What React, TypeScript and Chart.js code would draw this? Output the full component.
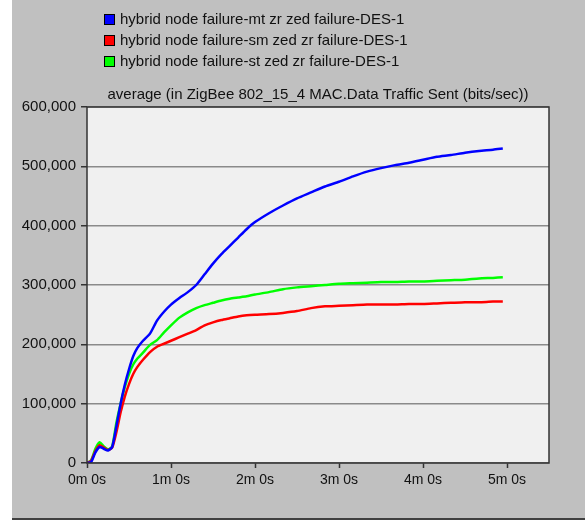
import React, { useEffect, useRef } from "react";
import { Chart, registerables } from "chart.js";

Chart.register(...registerables);

// Simulation time in seconds for each sample
const timeSec = [
  0, 3, 6, 9, 12, 15, 18, 21, 24, 27, 30, 33, 36, 40, 45, 50, 55, 60, 66, 72, 78, 84, 90, 96,
  102, 108, 114, 120, 130, 140, 150, 160, 170, 180, 190, 200, 210, 220, 230, 240, 250, 260,
  270, 280, 290, 297,
];

// Average MAC data traffic sent (bits/sec)
const mtZrZed = [
  0, 2000, 18000, 27000, 24000, 21000, 27000, 62000, 100000, 132000, 158000, 180000, 194000,
  206000, 218000, 240000, 255000, 267000, 278000, 288000, 300000, 318000, 336000, 352000,
  366000, 380000, 394000, 406000, 421000, 434000, 446000, 456000, 466000, 474000, 483000,
  491000, 497000, 502000, 506000, 511000, 516000, 519000, 523000, 526000, 528000, 530000,
];

const smZedZr = [
  0, 4000, 20000, 30000, 26000, 22000, 26000, 52000, 85000, 112000, 133000, 150000, 162000,
  174000, 187000, 196000, 201000, 206000, 212000, 218000, 224000, 232000, 237000, 241000,
  244000, 247000, 249000, 250000, 251000, 253000, 256000, 261000, 264000, 265000, 266000,
  267000, 267000, 267000, 268000, 268000, 269000, 270000, 271000, 271000, 272000, 272000,
];

const stZedZr = [
  0, 5000, 24000, 35000, 28000, 23000, 28000, 68000, 100000, 128000, 150000, 166000, 176000,
  186000, 199000, 207000, 220000, 232000, 245000, 254000, 261000, 266000, 270000, 274000,
  277000, 279000, 281000, 284000, 288000, 293000, 296000, 298000, 300000, 302000, 303000,
  304000, 305000, 305000, 306000, 306000, 307000, 308000, 309000, 311000, 312000, 313000,
];

const seriesLabels = [
  "hybrid node failure-mt zr zed failure-DES-1",
  "hybrid node failure-sm zed zr failure-DES-1",
  "hybrid node failure-st zed zr failure-DES-1",
];
const seriesColors = ["#0000ff", "#ff0000", "#00ff00"];

const chartTitle = "average (in ZigBee 802_15_4 MAC.Data Traffic Sent (bits/sec))";

const xTickSeconds = [0, 60, 120, 180, 240, 300];
const xTickLabels = ["0m 0s", "1m 0s", "2m 0s", "3m 0s", "4m 0s", "5m 0s"];

const FONT = "'Liberation Sans', Arial, sans-serif";

// Window-style panel, plot frame, legend and title
const panelPlugin = {
  id: "panel",
  beforeDraw(chart: any) {
    const { ctx, chartArea } = chart;
    ctx.save();
    ctx.fillStyle = "#ffffff";
    ctx.fillRect(0, 0, chart.width, chart.height);
    ctx.fillStyle = "#c0c0c0";
    ctx.fillRect(12, 0, chart.width - 12, 518);
    ctx.fillStyle = "#404040";
    ctx.fillRect(12, 518, chart.width - 12, 2);
    ctx.fillStyle = "#f0f0f0";
    ctx.fillRect(chartArea.left, chartArea.top, chartArea.right - chartArea.left, chartArea.bottom - chartArea.top);
    ctx.restore();
  },
  afterDraw(chart: any) {
    const { ctx, chartArea } = chart;
    ctx.save();
    ctx.strokeStyle = "#333333";
    ctx.lineWidth = 1.5;
    ctx.strokeRect(chartArea.left, chartArea.top, chartArea.right - chartArea.left, chartArea.bottom - chartArea.top);

    ctx.font = `15px ${FONT}`;
    ctx.textBaseline = "middle";
    ctx.textAlign = "left";
    chart.data.datasets.forEach((ds: any, i: number) => {
      const y = 14 + 21 * i;
      ctx.fillStyle = ds.borderColor;
      ctx.fillRect(104.5, y + 0.5, 10, 10);
      ctx.strokeStyle = "#000000";
      ctx.lineWidth = 1;
      ctx.strokeRect(104.5, y + 0.5, 10, 10);
      ctx.fillStyle = "#111111";
      ctx.fillText(ds.label, 120, y + 6);
    });

    ctx.textAlign = "center";
    ctx.fillText(chartTitle, (chartArea.left + chartArea.right) / 2, 95);
    ctx.restore();
  },
};

export default function App() {
  const canvasRef = useRef<HTMLCanvasElement | null>(null);

  useEffect(() => {
    if (!canvasRef.current) return;
    const series = [mtZrZed, smZedZr, stZedZr];
    const chart = new Chart(canvasRef.current, {
      type: "line",
      data: {
        datasets: series.map((vals, i) => ({
          label: seriesLabels[i],
          data: vals.map((v, k) => ({ x: timeSec[k], y: v })),
          borderColor: seriesColors[i],
          backgroundColor: seriesColors[i],
          borderWidth: 2.5,
          pointRadius: 0,
          tension: 0.2,
          fill: false,
        })),
      },
      options: {
        responsive: false,
        animation: false,
        devicePixelRatio: 1,
        layout: { padding: { left: 0, top: 107, right: 36, bottom: 18 } },
        plugins: {
          legend: { display: false },
          title: { display: false },
          tooltip: { enabled: false },
        },
        scales: {
          x: {
            type: "linear",
            min: 0,
            max: 330,
            afterBuildTicks: (scale: any) => {
              scale.ticks = xTickSeconds.map((v) => ({ value: v }));
            },
            afterFit: (scale: any) => {
              scale.height = 40;
            },
            grid: {
              drawOnChartArea: false,
              drawTicks: true,
              tickLength: 5,
              tickColor: "#333333",
              tickWidth: 1.5,
            },
            border: { display: false },
            ticks: {
              padding: 4,
              color: "#111111",
              font: { family: FONT, size: 14 },
              maxRotation: 0,
              callback: (value: any) => {
                const idx = xTickSeconds.indexOf(Number(value));
                return idx >= 0 ? xTickLabels[idx] : "";
              },
            },
          },
          y: {
            min: 0,
            max: 600000,
            afterFit: (scale: any) => {
              scale.width = 87;
            },
            grid: {
              color: "#8a8a8a",
              lineWidth: 1.5,
              drawTicks: true,
              tickLength: 6,
              tickColor: "#333333",
              tickWidth: 1.5,
            },
            border: { display: false },
            ticks: {
              stepSize: 100000,
              padding: 5,
              color: "#111111",
              font: { family: FONT, size: 15 },
              callback: (value: any) => Number(value).toLocaleString("en-US"),
            },
          },
        },
      },
      plugins: [panelPlugin],
    });
    return () => chart.destroy();
  }, []);

  return (
    <div style={{ position: "fixed", left: 0, top: 0, width: 585, height: 521 }}>
      <canvas ref={canvasRef} width={585} height={521} style={{ width: 585, height: 521, display: "block" }} />
    </div>
  );
}
